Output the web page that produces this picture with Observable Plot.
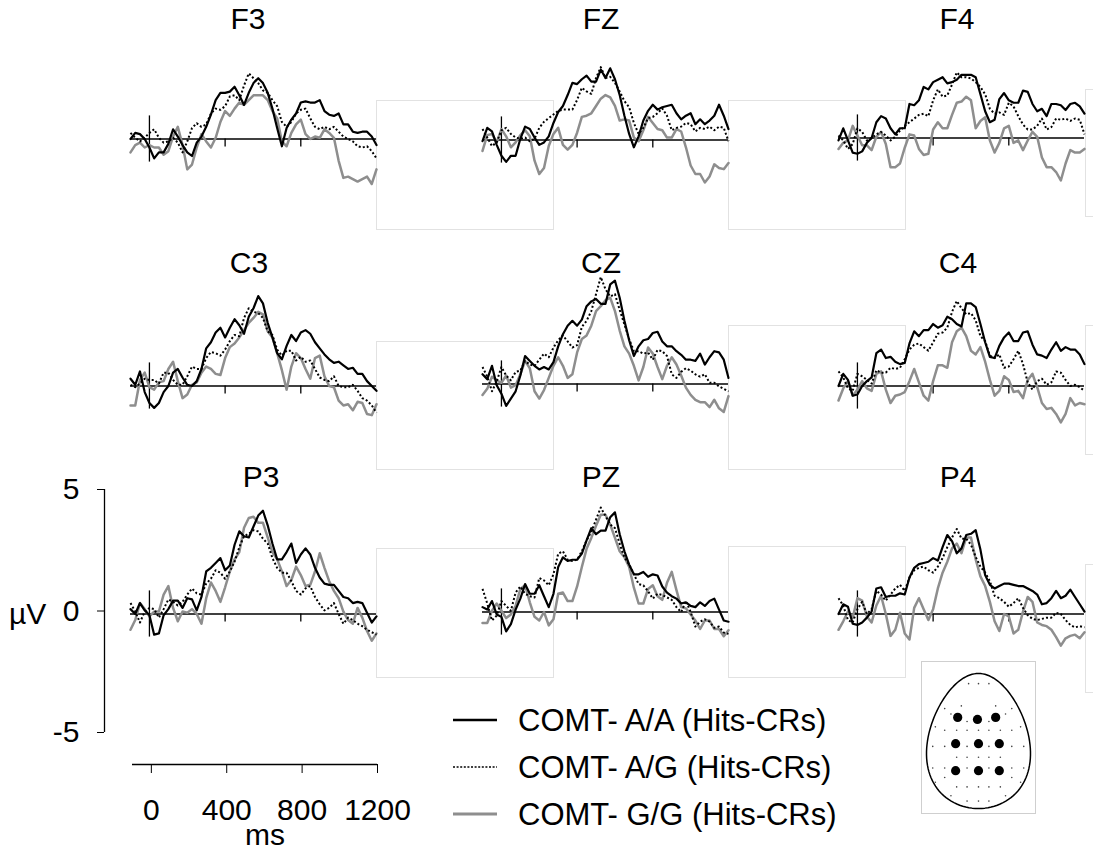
<!DOCTYPE html>
<html><head><meta charset="utf-8">
<script src="https://cdn.jsdelivr.net/npm/d3@7"></script>
<script src="https://cdn.jsdelivr.net/npm/@observablehq/plot@0.6"></script>
<style>
body{margin:0;background:#fff;}
#root{position:relative;width:1093px;height:850px;overflow:hidden;font-family:"Liberation Sans",Arial,sans-serif;color:#000;background:#fff;}
.ghost{position:absolute;border:1px solid #e2e2e2;box-sizing:border-box;}
.lbl{position:absolute;font-size:30px;line-height:30px;white-space:nowrap;}
.leg{position:absolute;font-size:31px;line-height:31px;white-space:nowrap;}
</style></head><body><div id="root"></div>
<script>
// ---------- data ----------
const times = [-100,-75,-50,-25,0,25,50,75,100,125,150,175,200,225,250,275,300,325,350,375,400,425,450,475,500,525,550,575,600,625,650,675,700,725,750,775,800,825,850,875,900,925,950,975,1000,1025,1050,1075,1100,1125,1150,1175,1200];
const electrodes = ["F3","FZ","F4","C3","CZ","C4","P3","PZ","P4"];
const seriesNames = ["COMT- A/A (Hits-CRs)","COMT- A/G (Hits-CRs)","COMT- G/G (Hits-CRs)"];
const xTicks = [0,400,800,1200];
const yTicks = [-5,0,5];

const F3_AA = [0.0,0.25,0.2,0.0,-0.35,-0.8,-0.55,-0.55,-0.2,0.4,0.1,-0.25,-0.55,-0.7,-0.15,0.1,0.5,1.0,1.6,1.9,1.9,1.95,2.15,1.8,1.4,1.9,2.3,2.5,2.3,1.9,1.25,0.45,-0.3,0.45,0.8,1.05,1.5,1.55,1.5,1.5,1.6,1.15,1.0,0.95,1.05,0.6,0.6,0.3,0.25,0.3,0.3,0.1,-0.25];
const F3_AG = [0.25,0.05,-0.1,0.05,0.25,0.4,0.05,-0.15,-0.1,0.05,-0.15,-0.55,-0.1,0.45,0.65,0.5,0.6,1.05,1.25,1.2,1.35,1.75,1.8,1.6,2.2,2.7,2.5,2.3,2.0,1.9,1.6,1.35,0.7,0.5,0.7,1.05,1.2,1.25,0.85,0.5,0.4,0.5,0.4,0.5,0.3,0.1,0,-0.1,-0.3,-0.35,-0.3,-0.5,-0.8];
const F3_GG = [-0.55,-0.25,-0.15,-0.35,-0.25,-0.35,-0.35,-0.65,-0.5,0.1,0.5,-0.25,-1.25,-1.05,-0.35,0.2,-0.1,-0.35,0.05,0.7,1.15,0.95,1.25,1.5,1.4,1.6,1.8,1.8,1.8,1.6,1.15,0.85,-0.1,-0.3,0.25,0.6,0.8,0.2,0,0.1,0.05,0.4,0.25,0.05,-0.9,-1.6,-1.55,-1.65,-1.75,-1.65,-1.55,-1.85,-1.25];

const FZ_AA = [-0.05,0.5,0.35,-0.2,-0.65,-0.9,-0.65,-0.65,0.05,0.55,0.45,0.1,-0.2,-0.1,0.15,0.7,1.15,1.4,1.85,2.35,2.3,2.5,2.65,2.4,2.4,2.9,2.55,2.95,2.5,1.85,1.0,0.25,-0.3,0.15,0.8,1.2,1.45,1.25,1.35,1.4,1.45,1.1,0.85,1.0,1.1,0.65,0.85,0.65,0.8,1.0,1.45,1.0,0.45];
const FZ_AG = [0.45,0.1,-0.25,-0.1,0.4,0.5,0.25,0.1,0.05,0.1,-0.05,0.05,0.5,0.75,0.9,1.05,1.2,1.25,1.25,1.25,1.65,2.15,2.0,1.9,2.55,3.0,2.55,2.6,2.35,2.0,1.6,1.35,0.7,0.25,0.5,0.9,0.95,1.1,1.3,1.0,0.4,0.5,0.55,0.7,0.65,0.35,0.5,0.45,0.55,0.4,0.55,0.5,-0.05];
const FZ_GG = [-0.45,0.2,0.25,-0.1,0.45,0.15,-0.3,-0.1,0.2,0.4,0.15,-0.85,-1.4,-1.15,-0.25,0.25,0.5,-0.2,-0.4,-0.2,0.3,0.95,1.0,1.1,1.4,1.7,1.85,1.75,1.4,0.8,0.85,0.8,0.1,-0.05,0.4,0.95,0.7,0.45,0.4,0.1,0.1,0.45,0.35,-0.3,-1.05,-1.4,-1.4,-1.75,-1.5,-1.0,-1.15,-1.2,-0.95];

const F4_AA = [-0.1,0.4,-0.1,-0.6,-0.65,-0.55,-0.2,0,0.65,0.9,0.8,0.4,0.15,0.4,0.4,1.4,1.35,1.55,2.1,2.0,2.3,2.4,2.5,2.25,2.3,2.4,2.6,2.6,2.6,2.5,1.8,1.1,0.65,0.75,1.6,1.85,1.55,1.45,1.45,1.95,1.9,1.4,1.1,1.2,0.9,1.4,1.4,1.35,1.15,1.4,1.45,1.3,1.0];
const F4_AG = [0.1,-0.1,-0.45,-0.25,0.4,0.25,-0.1,0,0.15,0.25,0.1,-0.1,0.05,0.3,0.5,0.65,0.8,0.95,1.0,0.9,1.55,2.0,1.7,1.75,2.2,2.7,2.5,2.5,2.45,2.3,2.1,1.8,1.2,1.0,1.05,0.95,1.45,1.3,0.9,0.55,0.35,0.35,0.5,0.8,0.35,0.45,0.8,0.75,0.8,0.7,0.8,0.75,0.15];
const F4_GG = [-0.45,-0.2,-0.1,0.5,0.1,-0.3,-0.3,-0.5,0.05,0.25,-0.25,-1.2,-1.2,-1.05,-0.4,0.15,0.1,-0.45,-0.7,-0.65,0.35,0.65,0.4,0.4,0.95,1.45,1.5,1.7,1.55,0.4,0.7,0.85,-0.1,-0.6,-0.2,0.4,0.5,-0.2,-0.1,-0.5,-0.1,0.25,0.05,-0.8,-1.2,-1.2,-1.4,-1.75,-1.05,-0.5,-0.6,-0.6,-0.45];

const C3_AA = [0.3,0.05,0.6,-0.25,-0.7,-0.9,-0.7,-0.25,0,0.55,0.7,0.35,0.05,0,0.2,0.7,1.55,1.8,2.2,2.4,2.0,2.4,2.75,2.5,2.15,2.85,3.2,3.7,3.4,2.6,2.0,1.35,1.1,1.65,2.1,1.85,2.2,2.3,2.15,1.8,1.55,1.3,1.1,0.95,1.0,0.85,0.7,0.75,0.5,0.5,0.2,0,-0.2];
const C3_AG = [0.05,-0.05,0.1,0.3,0.25,0.25,0.1,0.55,0.55,0.25,0.05,0.05,0.4,0.8,0.7,0.7,1.15,1.4,1.35,1.25,1.5,1.85,2.1,2.05,2.8,3.2,3.05,3.0,2.8,2.25,2.1,1.5,1.25,1.45,1.45,1.05,1.2,1.0,1.05,0.7,0.35,0.25,0.2,0.4,0,-0.05,-0.05,0.05,-0.2,-0.5,-0.6,-0.8,-1.1];
const C3_GG = [-0.8,-0.8,0.25,0.55,-0.05,-0.15,0.15,0.2,0.7,1.0,0.2,-0.5,-0.35,0.05,0.15,0.55,0.8,0.7,0.5,0.45,1.15,1.6,1.75,2.0,2.3,2.6,2.8,3.05,2.95,2.25,2.0,1.35,0.65,-0.15,0.8,1.35,1.15,0.7,0.3,1.15,1.25,0.4,0,-0.05,-0.6,-0.8,-0.75,-1.0,-0.65,-0.7,-1.15,-1.2,-0.75];

const CZ_AA = [0.4,0.2,0.75,-0.05,-0.4,-0.9,-0.6,-0.3,0.35,1.15,0.95,0.75,0.6,0.7,0.6,0.9,1.55,2.05,2.4,2.6,2.4,2.65,3.2,3.4,3.5,3.3,3.3,4.1,4.25,3.55,2.6,1.8,1.15,1.55,1.8,1.85,2.1,2.15,1.75,1.55,1.55,1.35,1.2,1.0,1.0,0.95,1.25,0.8,1.1,1.35,1.3,1.0,0.25];
const CZ_AG = [0.7,0.3,-0.3,0.1,0.7,0.35,0.15,0.5,0.55,0.95,0.8,0.75,1.0,1.25,1.1,1.5,1.8,2.0,1.75,1.5,1.6,2.35,2.6,3.0,3.7,4.4,3.9,3.6,3.7,3.05,2.45,1.85,1.35,1.35,1.25,1.3,1.0,1.4,1.35,1.15,0.4,0.25,0.5,0.65,0.55,0.4,0.3,0.4,0.05,0.05,-0.1,-0.2,-0.3];
const CZ_GG = [-0.45,-0.2,0.3,0.15,0.05,0.35,-0.15,-0.05,0.4,0.95,0.65,-0.3,-0.6,-0.25,0.25,0.75,1.1,0.75,0.25,0.4,1.3,1.85,2.0,2.4,3.0,3.2,3.45,3.55,3.0,2.2,1.55,1.25,0.75,0.15,0.7,1.5,1.25,0.7,0.2,0.75,1.1,0.8,0.35,-0.15,-0.45,-0.65,-0.75,-0.75,-0.95,-0.65,-1.0,-1.15,-0.5];

const C4_AA = [0,0.5,0.25,-0.4,-0.35,0,0.2,0.35,1.35,1.5,1.15,1.2,1.0,0.9,0.95,1.75,2.25,2.05,2.3,2.3,2.55,2.4,2.5,2.85,2.75,2.55,2.45,3.4,3.4,3.25,2.55,1.8,1.2,1.15,1.65,2.0,2.2,1.85,1.85,2.2,2.25,1.7,1.3,1.25,1.15,1.5,1.8,1.45,1.6,1.5,1.5,1.3,0.9];
const C4_AG = [0.6,0.35,-0.1,-0.2,0.5,0.4,0.25,0.1,0.65,0.55,0.55,0.75,0.7,0.75,1.1,1.5,1.7,1.75,1.6,1.45,1.8,2.15,2.2,2.4,3.05,3.5,3.2,2.95,3.0,2.7,2.05,1.85,1.25,1.15,1.3,0.75,0.8,1.1,1.45,0.9,0.15,-0.15,0.2,0.3,0.05,0.15,0.6,0.55,0.25,0,0.05,-0.05,-0.2];
const C4_GG = [-0.6,-0.1,0.2,-0.4,-0.15,0.2,-0.1,-0.2,0.5,0.6,-0.15,-0.7,-0.4,-0.35,-0.25,0.2,0.7,0.15,-0.4,-0.6,0.2,0.85,0.85,0.75,1.8,2.25,2.4,2.05,1.45,1.3,1.6,1.0,0.25,-0.4,-0.2,0.4,0.25,-0.25,-0.2,-0.5,0.25,0.5,-0.05,-0.7,-0.95,-0.9,-1.15,-1.5,-1.15,-0.5,-0.8,-0.7,-0.75];

const P3_AA = [0.2,0,0.45,0.15,-0.05,-0.85,-0.8,-0.05,0.2,0.55,0.55,0.25,0.65,0.6,0.15,0.7,1.75,1.9,2.1,2.3,1.8,2.0,2.85,3.4,3.2,3.15,3.6,4.05,4.25,3.65,2.9,2.25,2.25,2.55,2.9,2.1,2.45,2.7,2.45,1.9,1.5,1.25,1.2,1.2,0.95,0.7,0.65,0.45,0.5,0.45,0.05,-0.35,-0.1];
const P3_AG = [0.45,0.1,-0.35,0.1,0.25,0.2,-0.15,0.2,0.6,0.5,0.35,0.5,0.8,1.05,0.85,0.8,1.25,1.45,1.8,1.7,1.45,1.75,2.15,2.75,3.2,3.3,3.45,3.4,3.1,2.9,2.3,1.9,1.7,1.7,1.35,0.95,0.8,1.05,1.15,0.7,0.4,0.15,0.25,0.45,0,-0.4,-0.15,-0.25,-0.4,-0.5,-0.65,-0.75,-0.85];
const P3_GG = [-0.65,-0.25,0.45,0.2,-0.1,0.1,0.1,0.8,1.15,0.25,-0.3,0.1,0.05,0.2,0,-0.4,0.65,1.3,0.95,0.5,1.1,1.75,2.25,2.55,3.55,3.95,4.0,3.75,3.75,3.15,2.55,2.25,1.75,1.15,1.4,1.95,1.6,1.15,1.2,1.75,2.5,1.9,1.35,0.95,0.65,0.1,-0.25,-0.4,0.25,-0.15,-0.7,-1.1,-0.8];

const PZ_AA = [0.2,0.1,0.45,-0.1,-0.2,-0.8,-0.5,0.1,0.55,1.15,0.75,0.75,1.1,0.65,0.2,0.75,1.85,2.25,2.1,2.15,2.15,2.4,2.95,3.45,3.2,3.35,3.35,3.9,4.1,3.2,2.5,1.95,1.55,1.55,1.65,1.45,1.55,1.5,1.05,0.8,0.65,0.55,0.35,0.4,0.25,0.2,0.4,0.25,0.45,0.55,0.1,-0.35,-0.4];
const PZ_AG = [0.95,0.35,-0.35,-0.15,0.45,0.25,0.05,0.8,1.05,0.75,0.65,0.6,1.4,1.3,1.1,1.55,2.4,2.5,2.15,2.1,2.15,2.5,2.95,3.3,3.8,4.3,3.95,3.6,3.45,2.8,2.25,1.95,1.55,1.15,1.1,0.85,0.55,0.75,0.7,0.6,0.5,0.2,0,0.45,0,-0.6,-0.4,-0.3,-0.4,-0.65,-0.6,-0.85,-0.9];
const PZ_GG = [-0.45,-0.45,0.05,0.35,0.05,-0.25,-0.1,0.25,0.95,1.1,0.4,-0.2,-0.35,0,-0.55,-0.3,0.75,0.8,0.45,0.45,1.05,1.85,2.6,3.05,3.55,4.0,4.0,3.6,3.05,2.5,2.25,1.85,1.0,0.35,0.35,0.95,1.1,0.65,0.5,1.2,1.65,0.9,0.2,0.15,-0.1,-0.35,-0.7,-0.35,-0.35,-0.7,-0.7,-1.0,-0.75];

const P4_AA = [0,0.4,0.3,-0.4,-0.45,-0.35,-0.15,0.1,1.05,1.1,0.7,0.75,0.75,0.85,0.8,1.5,1.9,2.05,2.1,2.15,2.3,2.2,2.75,3.25,3.0,2.5,2.7,3.25,3.3,3.45,2.65,1.6,1.2,1.05,1.15,1.25,1.25,1.2,1.15,1.15,1.05,0.95,0.8,0.4,0.45,0.65,0.95,0.65,0.75,1.0,0.7,0.4,0.1];
const P4_AG = [0.65,0.35,-0.25,-0.35,0.2,0.5,0,0.2,0.95,0.8,0.55,0.8,1.05,1.2,0.95,1.5,1.8,1.9,1.95,1.8,1.7,1.95,2.3,2.75,3.15,3.5,3.1,3.1,2.85,2.35,1.95,1.7,1.35,0.75,0.65,0.5,0.3,0.45,0.65,0.25,-0.05,-0.2,-0.25,-0.2,-0.15,-0.15,0.05,0,-0.25,-0.45,-0.55,-0.5,-0.55];
const P4_GG = [-0.65,-0.3,0.1,-0.15,0.65,0.55,-0.1,-0.35,0.35,0.75,0,-0.9,-0.65,0.05,-0.8,-1.05,0.25,0.65,0.2,-0.25,0.2,1.05,1.7,2.15,2.7,2.9,2.5,3.15,3.15,2.25,1.55,1.15,0.5,-0.3,-0.7,0,-0.1,-0.8,-0.65,0.1,0.7,0.5,-0.35,-0.45,-0.5,-0.65,-0.95,-1.3,-1.0,-0.9,-0.85,-1.0,-0.75];

// electrode montage for the head inset (normalised head coordinates)
const bigSiteX = [-0.4,-0.02,0.33,-0.44,0,0.4,-0.44,0,0.4];
const bigSiteY = [0.35,0.32,0.35,-0.04,-0.04,-0.04,-0.44,-0.44,-0.44];
const smallSiteX = [-0.19,0,0.2, -0.33,0.33, -0.65,0.64, -0.53,0.52, -0.22,0.2, -0.83,0.81, -0.65,-0.42,-0.22,0,0.2,0.42,0.64, -0.88,-0.65,-0.22,0.2,0.64,0.87, -0.42,-0.22,0,0.2,0.42, -0.88,-0.65,-0.22,0.2,0.64,0.87, -0.65,0.64, -0.83,0.81, -0.42,-0.22,0,0.2,0.42, -0.53,0.52, -0.22,0,0.2];
const smallSiteY = [0.85,0.85,0.85, 0.52,0.52, 0.48,0.48, 0.40,0.40, 0.29,0.29, 0.21,0.21, 0.16,0.16,0.16,0.16,0.16,0.16,0.16, -0.08,-0.08,-0.08,-0.08,-0.08,-0.08, -0.24,-0.24,-0.24,-0.24,-0.24, -0.40,-0.40,-0.40,-0.40,-0.40,-0.40, -0.54,-0.54, -0.61,-0.61, -0.68,-0.68,-0.68,-0.68,-0.68, -0.81,-0.81, -0.89,-0.89,-0.89];

const waves = {
  F3:[F3_AA,F3_AG,F3_GG], FZ:[FZ_AA,FZ_AG,FZ_GG], F4:[F4_AA,F4_AG,F4_GG],
  C3:[C3_AA,C3_AG,C3_GG], CZ:[CZ_AA,CZ_AG,CZ_GG], C4:[C4_AA,C4_AG,C4_GG],
  P3:[P3_AA,P3_AG,P3_GG], PZ:[PZ_AA,PZ_AG,PZ_GG], P4:[P4_AA,P4_AG,P4_GG]
};

// ---------- layout ----------
const root = document.getElementById("root");
const FONT = "'Liberation Sans', Arial, sans-serif";
const PX_PER_UV = 24.3;
const SPAN = 246;        // px for -100..1200 ms
const layout = {
  F3:{left:130, zero:138, tx:248, ty:4},   FZ:{left:482, zero:139, tx:601, ty:4},   F4:{left:838, zero:137, tx:957, ty:4},
  C3:{left:130, zero:385, tx:249, ty:248}, CZ:{left:482, zero:383, tx:601, ty:248}, C4:{left:838, zero:385, tx:958, ty:248},
  P3:{left:130, zero:613, tx:261, ty:462}, PZ:{left:482, zero:611, tx:601, ty:462}, P4:{left:838, zero:613, tx:958, ty:462}
};
const ghosts = [
  [376,100,554,230],[728,100,906,230],[1085,89,1100,217],
  [376,341,554,470],[728,325,906,470],[1085,325,1100,455],
  [376,548,554,678],[728,546,906,678],[1085,564,1100,693]
];
const styles = {
  AA:{stroke:"#000", strokeWidth:2.2},
  AG:{stroke:"#000", strokeWidth:2, strokeDasharray:"2,2.2", strokeLinecap:"butt"},
  GG:{stroke:"#8e8e8e", strokeWidth:2.5}
};

function place(el, left, top){ el.style.position="absolute"; el.style.left=left+"px"; el.style.top=top+"px"; root.append(el); }

// faint empty frames behind the panels
for (const [l,t,r,b] of ghosts){
  const d=document.createElement("div"); d.className="ghost";
  d.style.left=l+"px"; d.style.top=t+"px"; d.style.width=(r-l)+"px"; d.style.height=(b-t)+"px";
  root.append(d);
}

// panels
const yTop = 5, yBot = -3, mt = 6, mb = 6, ml = 10, mr = 10;
for (const name of electrodes){
  const [aa, ag, gg] = waves[name];
  const rows = s => times.map((t,i)=>({t, v:s[i]}));
  const L = layout[name];
  const svg = Plot.plot({
    width: SPAN + ml + mr, height: (yTop-yBot)*PX_PER_UV + mt + mb,
    marginLeft: ml, marginRight: mr, marginTop: mt, marginBottom: mb,
    x:{domain:[-100,1200], axis:null},
    y:{domain:[yBot,yTop], axis:null},
    style:{background:"transparent", overflow:"visible"},
    marks:[
      Plot.ruleY([0], {stroke:"#000", strokeWidth:1.3}),
      Plot.ruleX([0], {y1:-0.95, y2:0.95, stroke:"#000", strokeWidth:1.3}),
      Plot.ruleX([400,800], {y1:0, y2:-0.33, stroke:"#000", strokeWidth:1.3}),
      Plot.line(rows(gg), {x:"t", y:"v", ...styles.GG}),
      Plot.line(rows(ag), {x:"t", y:"v", ...styles.AG}),
      Plot.line(rows(aa), {x:"t", y:"v", ...styles.AA})
    ]
  });
  place(svg, L.left - ml, L.zero - mt - yTop*PX_PER_UV);
  const t = document.createElement("div"); t.className="lbl"; t.textContent=name;
  t.style.left=(L.tx-60)+"px"; t.style.width="120px"; t.style.textAlign="center"; t.style.top=L.ty+"px";
  root.append(t);
}

// y scale bar
{
  const svg = Plot.plot({
    width:110, height:290, marginLeft:104, marginRight:6, marginTop:19, marginBottom:28,
    x:{domain:[0,1], axis:null},
    y:{domain:[-5,5], ticks:yTicks, tickSize:7, tickPadding:18, tickFormat:d=>String(d), label:null},
    style:{background:"transparent", overflow:"visible", fontSize:"30px", fontFamily:FONT, color:"#000"},
    marks:[ Plot.ruleX([0], {y1:-5, y2:5, stroke:"#000", strokeWidth:1.3}) ]
  });
  place(svg, 0, 470);
}
// x scale bar
{
  const svg = Plot.plot({
    width:400, height:86, marginLeft:132, marginRight:23, marginTop:10, marginBottom:76,
    x:{domain:[-100,1200], ticks:xTicks, tickSize:9, tickPadding:25, tickFormat:d=>String(d), label:null},
    y:{domain:[0,1], axis:null},
    style:{background:"transparent", overflow:"visible", fontSize:"30px", fontFamily:FONT, color:"#000"},
    marks:[ Plot.ruleY([0], {stroke:"#000", strokeWidth:1.3}) ]
  });
  place(svg, 0, 754);
}
{
  const uv=document.createElement("div"); uv.className="lbl"; uv.textContent="µV"; uv.style.left="9px"; uv.style.top="599px"; root.append(uv);
  const ms=document.createElement("div"); ms.className="lbl"; ms.textContent="ms"; ms.style.left="205px"; ms.style.width="120px"; ms.style.textAlign="center"; ms.style.top="820px"; root.append(ms);
}

// legend
{
  const centers=[720,767,814];
  const keys=["AA","AG","GG"];
  const legW={AA:2.4,AG:1.4,GG:3};
  seriesNames.forEach((s,i)=>{
    const st=styles[keys[i]];
    const ns="http://www.w3.org/2000/svg";
    const sv=document.createElementNS(ns,"svg"); sv.setAttribute("width","46"); sv.setAttribute("height","10");
    const ln=document.createElementNS(ns,"line");
    ln.setAttribute("x1","0"); ln.setAttribute("x2","44"); ln.setAttribute("y1","5"); ln.setAttribute("y2","5");
    ln.setAttribute("stroke",st.stroke); ln.setAttribute("stroke-width",legW[keys[i]]);
    if(st.strokeDasharray) ln.setAttribute("stroke-dasharray","2,1.6");
    sv.append(ln);
    place(sv, 453, centers[i]-5);
    const tx=document.createElement("div"); tx.className="leg"; tx.textContent=s;
    tx.style.left="518px"; tx.style.top=(centers[i]-15)+"px"; root.append(tx);
  });
}

// head inset
{
  const egg = d3.range(0, 361, 3).map(a => { const th=a*Math.PI/180, s=Math.sin(th); return {x:Math.cos(th)*(1-0.2*s)/1.019, y:s}; });
  const big = bigSiteX.map((x,i)=>({x, y:bigSiteY[i]}));
  const small = smallSiteX.map((x,i)=>({x, y:smallSiteY[i]}));
  const svg = Plot.plot({
    width:113, height:151, marginLeft:4, marginRight:5, marginTop:11, marginBottom:5,
    x:{domain:[-1,1], axis:null}, y:{domain:[-1,1], axis:null},
    style:{background:"#fff", border:"1px solid #cfcfcf", overflow:"visible"},
    marks:[
      Plot.line(egg, {x:"x", y:"y", stroke:"#000", strokeWidth:1.5}),
      Plot.dot(small, {x:"x", y:"y", r:0.8, fill:"#444", stroke:null}),
      Plot.dot(big, {x:"x", y:"y", r:4.6, fill:"#000", stroke:null})
    ]
  });
  place(svg, 921, 661);
}
</script></body></html>
